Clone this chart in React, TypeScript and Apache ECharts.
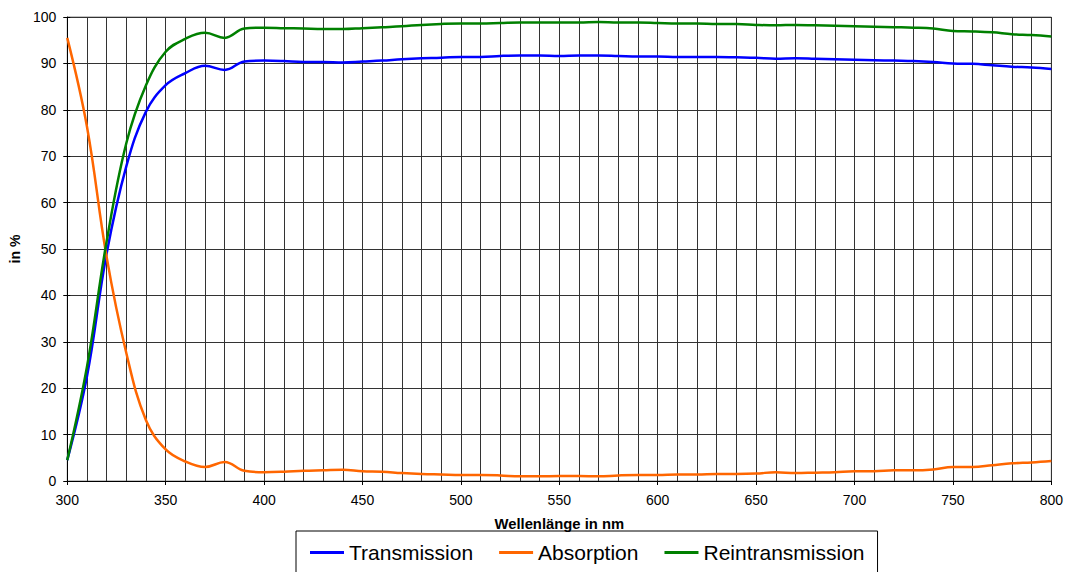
import React, { useEffect, useRef } from "react";
import * as echarts from "echarts";

const wavelengths = [
  300, 310, 320, 330, 340, 350, 360, 370, 380, 390, 400, 410, 420, 430, 440, 450, 460, 470, 480, 490,
  500, 510, 520, 530, 540, 550, 560, 570, 580, 590, 600, 610, 620, 630, 640, 650, 660, 670, 680, 690,
  700, 710, 720, 730, 740, 750, 760, 770, 780, 790, 800,
];

const transmission = [
  4.5, 22.5, 49, 67.8, 79.6, 85.3, 87.9, 89.5, 88.6, 90.4, 90.6, 90.5, 90.3, 90.3, 90.2, 90.4, 90.6, 90.9, 91.1, 91.2,
  91.4, 91.4, 91.6, 91.7, 91.7, 91.6, 91.7, 91.7, 91.6, 91.5, 91.5, 91.4, 91.4, 91.4, 91.3, 91.2, 91.0, 91.1, 91.0, 90.9,
  90.8, 90.7, 90.6, 90.5, 90.3, 90.0, 89.9, 89.6, 89.3, 89.1, 88.8,
];

const absorption = [
  95.5, 76.4, 48.3, 27.6, 13.1, 6.8, 4.2, 3.0, 4.1, 2.2, 1.9, 2.0, 2.2, 2.3, 2.4, 2.1, 2.0, 1.7, 1.5, 1.4,
  1.3, 1.3, 1.2, 1.0, 1.0, 1.1, 1.1, 1.0, 1.2, 1.3, 1.3, 1.4, 1.4, 1.5, 1.5, 1.6, 1.9, 1.7, 1.8, 1.9,
  2.1, 2.1, 2.3, 2.3, 2.5, 3.0, 3.0, 3.4, 3.8, 4.0, 4.3,
];

const reintransmission = [
  4.5, 24.6, 51.6, 72.8, 85.3, 92.5, 95.3, 96.6, 95.5, 97.5, 97.7, 97.6, 97.5, 97.4, 97.4, 97.6, 97.8, 98.0, 98.3, 98.5,
  98.6, 98.6, 98.7, 98.8, 98.8, 98.8, 98.8, 98.9, 98.8, 98.8, 98.7, 98.6, 98.6, 98.5, 98.5, 98.3, 98.2, 98.3, 98.2, 98.1,
  98.0, 97.9, 97.8, 97.7, 97.5, 97.0, 96.9, 96.7, 96.3, 96.1, 95.8,
];

const seriesNames = ["Transmission", "Absorption", "Reintransmission"];
const seriesColors = ["#0000FF", "#FF6600", "#008000"];

const FONT = "'Liberation Sans', Arial, sans-serif";

export default function App() {
  const ref = useRef<HTMLDivElement>(null);

  useEffect(() => {
    if (!ref.current) return;
    const chart = echarts.init(ref.current, undefined, { renderer: "svg" });
    const dataSets = [transmission, absorption, reintransmission];
    const gridLine = { show: true, lineStyle: { color: "#333", width: 1 } };
    chart.setOption({
      animation: false,
      backgroundColor: "#fff",
      textStyle: { fontFamily: FONT },
      grid: {
        left: 67,
        right: 12,
        top: 17,
        bottom: 91,
        show: true,
        borderColor: "#888",
        borderWidth: 1,
      },
      legend: {
        left: 296,
        top: 531,
        orient: "horizontal",
        data: seriesNames.map((n) => ({ name: n, icon: "rect" })),
        itemWidth: 34,
        itemHeight: 3,
        itemGap: 26,
        padding: [11, 13, 12, 14],
        borderColor: "#000",
        borderWidth: 1,
        textStyle: { fontSize: 21, color: "#000", fontFamily: FONT },
      },
      xAxis: {
        type: "value",
        min: 300,
        max: 800,
        interval: 50,
        name: "Wellenlänge in nm",
        nameLocation: "middle",
        nameGap: 35,
        nameTextStyle: { fontSize: 14.8, fontWeight: "bold", color: "#000", fontFamily: FONT },
        axisLine: { show: true, onZero: false, lineStyle: { color: "#000", width: 1 } },
        axisTick: { show: true, length: 4, lineStyle: { color: "#000" } },
        axisLabel: { fontSize: 14, color: "#000", margin: 12, fontFamily: FONT },
        splitLine: gridLine,
        minorTick: { show: false, splitNumber: 5 },
        minorSplitLine: gridLine,
      },
      yAxis: [
        {
          type: "value",
          min: 0,
          max: 100,
          interval: 10,
          name: "in %",
          nameLocation: "middle",
          nameGap: 42,
          nameRotate: 90,
          nameTextStyle: { fontSize: 14, fontWeight: "bold", color: "#000", fontFamily: FONT },
          axisLine: { show: true, lineStyle: { color: "#000", width: 1 } },
          axisTick: { show: true, length: 4, lineStyle: { color: "#000" } },
          axisLabel: { fontSize: 14, color: "#000", margin: 11, fontFamily: FONT },
          splitLine: gridLine,
        },
        {
          type: "value",
          min: 0,
          max: 100,
          interval: 10,
          position: "left",
          axisLine: { show: false },
          axisTick: { show: true, inside: true, length: 3, lineStyle: { color: "#000" } },
          axisLabel: { show: false },
          splitLine: { show: false },
        },
      ],
      series: seriesNames.map((name, i) => ({
        name,
        type: "line",
        yAxisIndex: 0,
        data: wavelengths.map((w, j) => [w, dataSets[i][j]]),
        smooth: 0.4,
        showSymbol: false,
        symbol: "none",
        lineStyle: { color: seriesColors[i], width: 2.5 },
        itemStyle: { color: seriesColors[i] },
      })),
    });
    return () => chart.dispose();
  }, []);

  return <div ref={ref} style={{ width: 1066, height: 572, position: "absolute", left: 0, top: 0 }} />;
}
